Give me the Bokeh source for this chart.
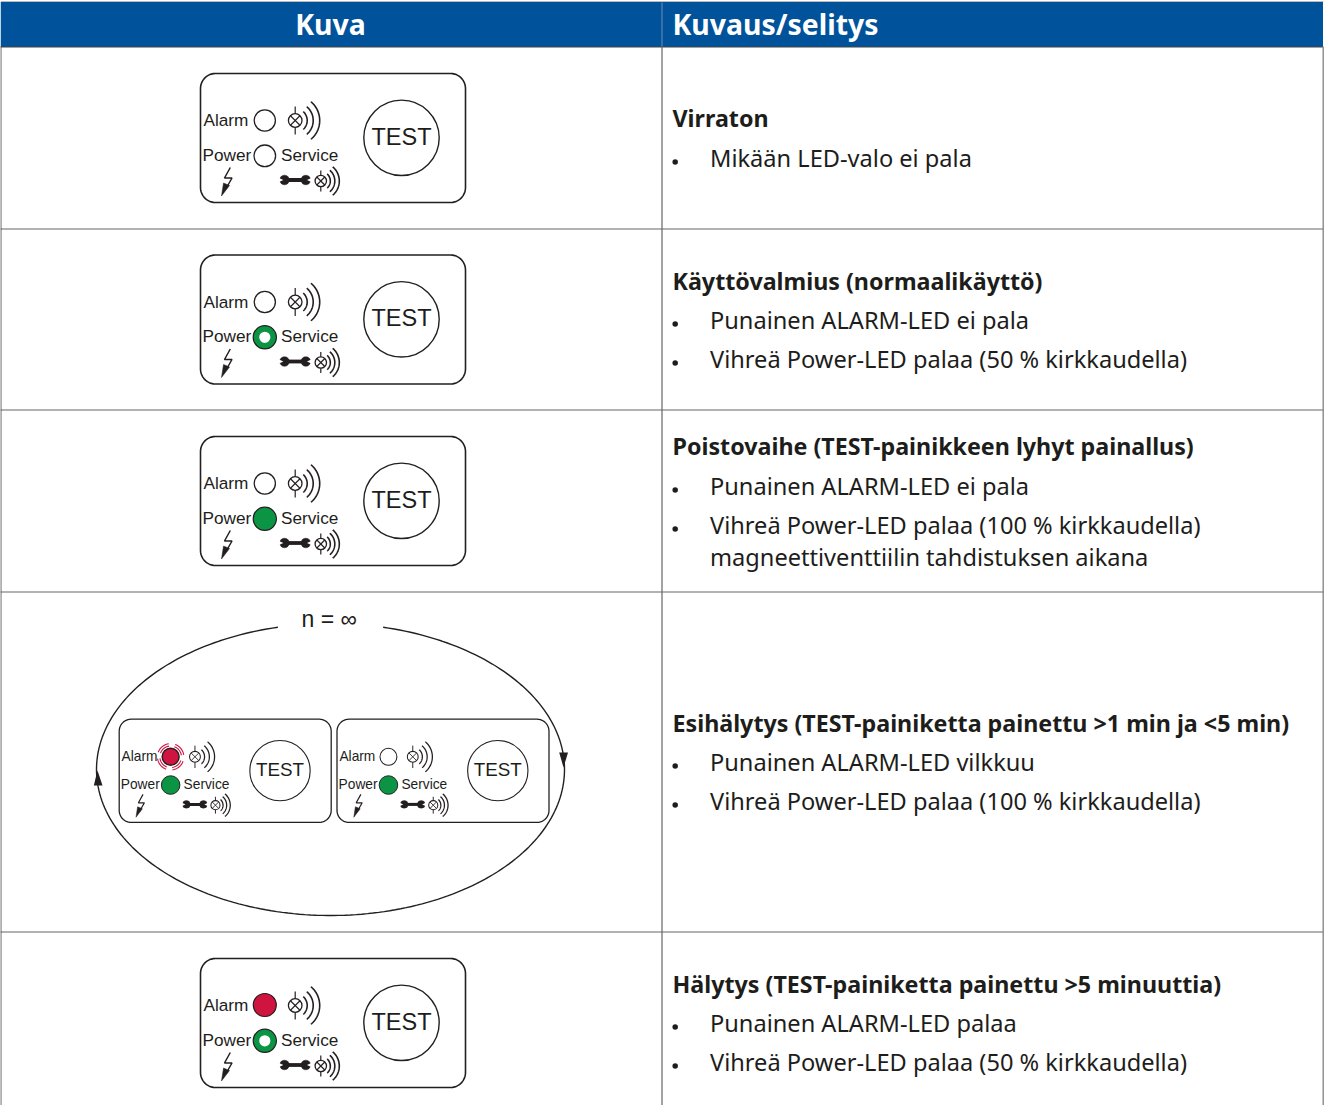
import numpy as np
from bokeh.embed import file_html
from bokeh.models import Range1d
from bokeh.plotting import figure
from bokeh.resources import INLINE

# ---- table content ----
header_labels = ["Kuva", "Kuvaus/selitys"]
titles = ["Virraton", "Käyttövalmius (normaalikäyttö)",
          "Poistovaihe (TEST-painikkeen lyhyt painallus)",
          "Esihälytys (TEST-painiketta painettu >1 min ja <5 min)",
          "Hälytys (TEST-painiketta painettu >5 minuuttia)"]
title_y = [134, 297, 462, 739, 1000]
bullets = [
    [("Mikään LED-valo ei pala", 174)],
    [("Punainen ALARM-LED ei pala", 336), ("Vihreä Power-LED palaa (50 % kirkkaudella)", 375)],
    [("Punainen ALARM-LED ei pala", 502), ("Vihreä Power-LED palaa (100 % kirkkaudella)", 541)],
    [("Punainen ALARM-LED vilkkuu", 778), ("Vihreä Power-LED palaa (100 % kirkkaudella)", 817)],
    [("Punainen ALARM-LED palaa", 1039), ("Vihreä Power-LED palaa (50 % kirkkaudella)", 1078)],
]
continuation = [("magneettiventtiilin tahdistuksen aikana", 573)]
row_lines = [236.5, 417.5, 599.5, 939.5]

# ---- device panels: x, y, scale, alarm state, power state ----
panels = [
    (208, 81, 1.0, "off", "off"),
    (208, 262.5, 1.0, "off", "half"),
    (208, 444, 1.0, "off", "full"),
    (126.7, 726.7, 0.8, "blink", "full"),
    (344.5, 726.7, 0.8, "off", "full"),
    (208, 966, 1.0, "on", "half"),
]
GREEN, RED, INK, BLUE = "#0b9444", "#cf1440", "#231f20", "#00539b"
TEXT = "#1d1d1b"
SANS = "Liberation Sans"
BODY = "Noto Sans"
RIGHT, BOTTOM = 1333, 1113

p = figure(width=RIGHT - 8, height=BOTTOM - 8, x_range=Range1d(8, RIGHT), y_range=Range1d(BOTTOM, 8),
           output_backend="svg", toolbar_location=None, min_border=0,
           x_axis_location=None, y_axis_location=None, outline_line_color=None)
p.grid.visible = False


def txt(x, y, s, size, color=TEXT, font=SANS, style="normal", align="left"):
    # y is the text's baseline in picture pixels
    p.text([x], [y - 0.36 * size], text=[s], text_font_size=f"{size}px", text_color=color,
           text_font=dict(value=font), text_font_style=style, text_align=align,
           text_baseline="middle")


# ---- table frame ----
p.quad(left=[8], right=[1330.5], top=[9.5], bottom=[54.5], fill_color=BLUE, line_color=None)
p.line([8, 1330.5], [54.5, 54.5], line_color="#444444", line_width=1)
p.line([8, 1331], [9.0, 9.0], line_color="#bbbbbb", line_width=1)
for y in row_lines:
    p.line([8, 1331], [y, y], line_color="#666666", line_width=1.2)
p.line([669.5, 669.5], [54, BOTTOM], line_color="#666666", line_width=1.2)
p.line([669.5, 669.5], [10, 54], line_color="#6f8fb5", line_width=1)
p.line([8.4, 8.4], [54, BOTTOM], line_color="#333333", line_width=1)
p.line([1330.7, 1330.7], [54, BOTTOM], line_color="#888888", line_width=1.4)
txt(338, 42, header_labels[0], 28.4, "#ffffff", BODY, "bold", "center")
txt(680, 42, header_labels[1], 28.4, "#ffffff", BODY, "bold")

# ---- description column ----
for t, y in zip(titles, title_y):
    txt(680, y, t, 23.25, TEXT, BODY, "bold")
for rows in bullets:
    for s, y in rows:
        p.scatter([682.7], [y - 4.5], size=5.5, marker="circle", fill_color=TEXT, line_color=None)
        txt(717.5, y, s, 23.6, TEXT, BODY)
for s, y in continuation:
    txt(717.5, y, s, 23.6, TEXT, BODY)


# ---- device panel drawing (local units: 265 x 129 box) ----
def arc_pts(cx, cy, r, a0, a1, ry=None, n=40):
    a = np.radians(np.linspace(a0, a1, n))
    return cx + r * np.cos(a), cy + (ry if ry else r) * np.sin(a)


def draw_panel(x0, y0, s, alarm, power):
    X = lambda v: x0 + np.asarray(v) * s
    Y = lambda v: y0 + np.asarray(v) * s

    def ln(xs, ys, w=1.0, c=INK):
        p.line(X(xs).tolist(), Y(ys).tolist(), line_color=c, line_width=w * s)

    def dot(x, y, r, fill="#ffffff", lc=INK, w=1.3):
        p.circle(X([x]).tolist(), Y([y]).tolist(), radius=r * s, fill_color=fill,
                 line_color=lc, line_width=w * s)

    # box
    W, H, R = 265, 129, 15
    xs, ys = [], []
    for cx, cy, a0 in [(W - R, R, -90), (W - R, H - R, 0), (R, H - R, 90), (R, R, 180)]:
        ax, ay = arc_pts(cx, cy, R, a0, a0 + 90, n=12)
        xs += ax.tolist()
        ys += ay.tolist()
    p.patch(X(xs + xs[:1]).tolist(), Y(ys + ys[:1]).tolist(), fill_color="#ffffff",
            line_color=INK, line_width=1.6 * s)

    # TEST button
    dot(201, 64.3, 37.7, w=1.4)

    # labels
    txt(float(X(3.0)), float(Y(53.0)), "Alarm", 17.2 * s)
    txt(float(X(2.0)), float(Y(87.5)), "Power", 17.2 * s)
    txt(float(X(80.5)), float(Y(87.5)), "Service", 17.2 * s)
    txt(float(X(201)), float(Y(71.5)), "TEST", 23.5 * s, align="center")

    # lamp symbols with sound arcs
    def lamp(cx, cy, r, half, radii):
        dot(cx, cy, r, w=1.3)
        d = r * 0.7
        ln([cx - d, cx + d], [cy - d, cy + d], 1.1)
        ln([cx - d, cx + d], [cy + d, cy - d], 1.1)
        ln([cx, cx], [cy - half, cy - r], 1.2)
        ln([cx, cx], [cy + r, cy + half], 1.2)
        for rr, a in radii:
            ax, ay = arc_pts(cx, cy, rr, -a, a)
            ln(ax, ay, 1.6)

    lamp(94.7, 47, 6.8, 14, [(12, 48), (18, 50), (24.5, 50)])
    lamp(120.3, 107.5, 5.7, 10.5, [(9.5, 48), (14, 50), (18.5, 50)])

    # lightning bolt
    ln([29.8, 24, 31.5, 25.5], [94, 104.5, 104.5, 115], 1.5)
    p.patch(X([29, 21, 23]).tolist(), Y([112, 122.5, 109.5]).tolist(),
            fill_color=INK, line_color=INK, line_width=0.5)

    # wrench
    ln([84, 106], [106.5, 106.5], 3.8)
    for cx, sign in [(84, -1), (105.3, 1)]:
        dot(cx, 106.5, 4.8, INK, INK, 0.5)
        p.patch(X([cx + sign * 1.2, cx + sign * 6, cx + sign * 6]).tolist(),
                Y([106.5, 104.2, 108.8]).tolist(), fill_color="#ffffff", line_color=None)

    # LEDs
    if alarm == "off":
        dot(64.3, 47, 10.6)
    elif alarm == "on":
        dot(64.3, 46.5, 11.5, RED, INK, 1.2)
    else:
        dot(64.3, 47, 10.6, RED, INK, 1.8)
        for rr in (13.5, 16.5):
            for a0 in (-70, 20, 110, 200):
                ax, ay = arc_pts(64.3, 47, rr, a0, a0 + 62, n=10)
                ln(ax, ay, 1.4, RED)
    if power == "off":
        dot(64.3, 82.3, 10.8)
    elif power == "full":
        dot(64.3, 82.3, 11.6, GREEN, INK, 1.2)
    else:
        dot(64.3, 82.3, 11.6, GREEN, INK, 1.2)
        dot(64.3, 82.3, 5.6, "#ffffff", None, 0)


for x0, y0, s, a, b in panels:
    draw_panel(x0, y0, s, a, b)

# ---- repeat loop around the two flashing panels ----
loop_cx, loop_cy, loop_rx, loop_ry = 338, 777, 234, 146
ax, ay = arc_pts(loop_cx, loop_cy, loop_rx, -77, 257, ry=loop_ry, n=240)
p.line(ax.tolist(), ay.tolist(), line_color=INK, line_width=1.4)
p.patch([105, 101.3, 110], [778, 793, 793], fill_color=INK, line_color=None)
p.patch([571, 566.7, 575.5], [775, 760, 760], fill_color=INK, line_color=None)
txt(309, 635, "n = ∞", 23)

open("out.html", "w").write(file_html(p, INLINE))
